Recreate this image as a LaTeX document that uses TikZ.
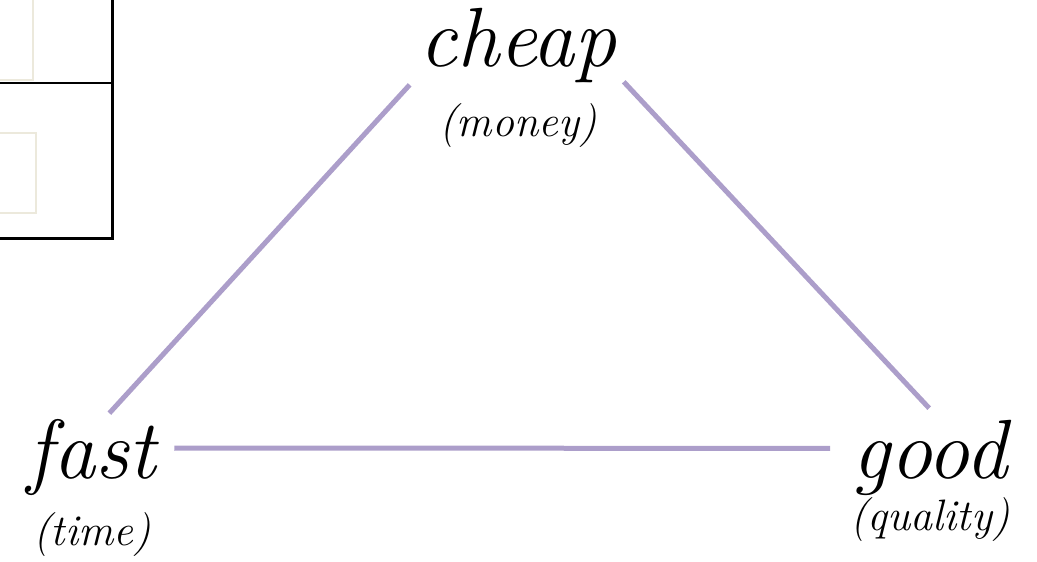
\documentclass[tikz,border=0pt]{standalone}
\usepackage{fontspec}
\usetikzlibrary{positioning,calc}
\definecolor{edgeLav}{RGB}{172,158,202}
\definecolor{paleBox}{RGB}{236,233,220}
\tikzset{
  word/.style={font=\fontsize{84}{90}\selectfont\itshape, inner sep=0pt, anchor=base},
  note/.style={font=\fontsize{44}{50}\selectfont\itshape, inner sep=0pt, anchor=base},
  edge/.style={draw=edgeLav, line width=5pt},
  frame/.style={draw=black, line width=3pt},
  pale/.style={draw=paleBox, line width=1.2pt},
}

\begin{document}
\begin{tikzpicture}[x=1pt, y=-1pt]
  \useasboundingbox (0,0) rectangle (1037,562);
  % cropped table in the corner
  \draw[pale] (-5,-5) rectangle (33,80);
  \draw[pale] (-5,133) rectangle (36,213);
  \draw[frame] (-5,-5) -- (112,-5) -- (112,238) -- (-5,238);
  \draw[black, line width=2pt] (-5,83) -- (112,83);
  % the three corners
  \node[word] (cheap) at (518,66) {cheap};
  \node[word] (fast) at (92,478) {fast};
  \node[word] (good) at (930,478) {good};
  \node[note, below=70pt of cheap.base, anchor=base] (money) {(money)};
  \node[note, below=67pt of fast.base, anchor=base] (time) {(time)};
  \node[note, below=52pt of good.base, anchor=base] (quality) {(quality)};
  % sides
  \draw[edge, shorten <=14pt, shorten >=2pt] ([yshift=8pt]cheap.south west) -- ([xshift=16pt, yshift=4pt]fast.north);
  \draw[edge, shorten <=10pt, shorten >=10pt] ([yshift=8pt]cheap.south east) -- ([xshift=6pt, yshift=4pt]good.north);
  \draw[edge, shorten <=18pt, shorten >=22pt] ([yshift=9pt]fast.east) -- ([yshift=9pt]good.west);
\end{tikzpicture}
\end{document}
